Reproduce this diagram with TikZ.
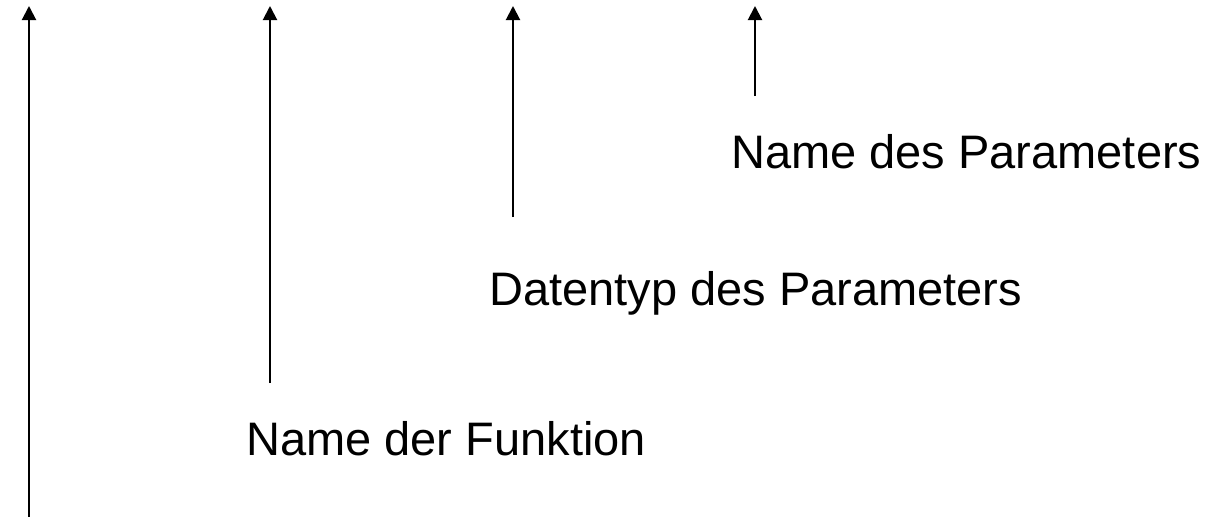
\documentclass[tikz,border=0pt]{standalone}
\usepackage{fontspec}
\setmainfont{Liberation Sans}
\usetikzlibrary{arrows.meta}
\begin{document}
\begin{tikzpicture}[x=1pt,y=-1pt,
  lbl/.style={anchor=base west,inner sep=0pt,font=\fontsize{47}{52}\selectfont},
  pointer/.style={line width=2pt,-{Triangle[length=14pt,width=14pt]}}]
\useasboundingbox (0,0) rectangle (1211,517);
\node[lbl] (pname) at (731,168) {Name des Parameters};
\node[lbl] (ptype) at (489,305) {Datentyp des Parameters};
\node[lbl] (fname) at (246,455) {Name der Funktion};
\coordinate (b1) at (29,520);
\coordinate (t1) at (29,6);
\coordinate (b2) at (270,383);
\coordinate (t2) at (270,6);
\coordinate (b3) at (513,217);
\coordinate (t3) at (513,6);
\coordinate (b4) at (755,96);
\coordinate (t4) at (755,6);
\draw[pointer] (b1) -- (t1);
\draw[pointer] (b2) -- (t2);
\draw[pointer] (b3) -- (t3);
\draw[pointer] (b4) -- (t4);
\end{tikzpicture}
\end{document}
